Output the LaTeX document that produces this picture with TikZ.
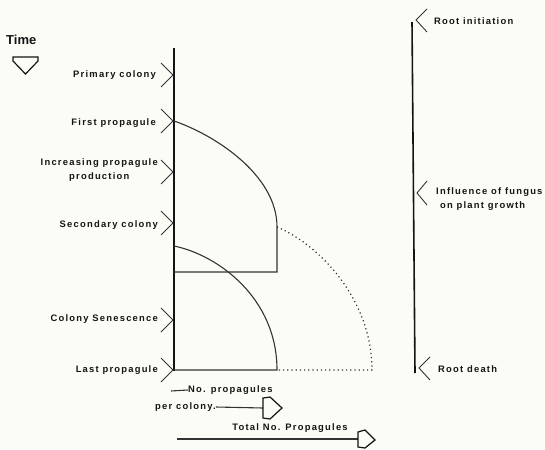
\documentclass[tikz,border=0pt]{standalone}
\usepackage{fontspec}
\setmainfont{Liberation Sans}
\usepackage{xcolor}
\usepackage{tikz}
\definecolor{PaperBg}{HTML}{FCFCF7}
\definecolor{InkDark}{HTML}{141414}
\definecolor{InkSoft}{HTML}{333333}

\tikzset{
  stagelabel/.style={font=\bfseries\fontsize{9.4}{14.5}\selectfont\addfontfeature{LetterSpace=13}, text=InkDark, inner sep=0pt},
  axisline/.style={InkDark, line width=1.6pt},
  colonyline/.style={InkSoft, line width=1.1pt},
  tickmark/.style={InkSoft, line width=0.9pt},
  potentialline/.style={InkSoft, line width=1.2pt, dash pattern=on 1.2pt off 3pt},
  hollowarrow/.style={InkDark, line width=1.2pt, line join=miter}
}

\begin{document}
\begin{tikzpicture}[x=1pt, y=-1pt]
    \fill[PaperBg] (0,0) rectangle (545,449);
    \useasboundingbox (0,0) rectangle (545,449);

    % time axis of the colony
    \coordinate (ctop) at (174,48);
    \coordinate (cbot) at (174,371);
    \draw[axisline] (ctop) -- (cbot);

    % time axis of the root
    \coordinate (rtop) at (412,22);
    \coordinate (rbot) at (415,373);
    \draw[axisline] (rtop) -- (rbot);

    % Time
    \node[font=\bfseries\fontsize{13}{15}\selectfont, text=InkDark, anchor=west, inner sep=0pt] (time) at (6,40) {Time};
    \draw[hollowarrow] (13,57) -- (38,57) -- (38,61) -- (25.5,74) -- (13,61) -- cycle;

    % stages of the colony
    \node[stagelabel, anchor=east] (primary) at (156,75) {Primary colony};
    \node[stagelabel, anchor=east] (first) at (156,123) {First propagule};
    \node[stagelabel, anchor=east, align=center] (increasing) at (158,170) {Increasing propagule\\production};
    \node[stagelabel, anchor=east] (secondary) at (158,225) {Secondary colony};
    \node[stagelabel, anchor=east] (senescence) at (158,319) {Colony Senescence};
    \node[stagelabel, anchor=east] (last) at (158,370) {Last propagule};

    \draw[tickmark] (161,63) -- (173,75) -- (161,87);
    \draw[tickmark] (161,109) -- (173,121) -- (161,133);
    \draw[tickmark] (161,160) -- (173,172) -- (161,184);
    \draw[tickmark] (161,211) -- (173,223) -- (161,235);
    \draw[tickmark] (161,308) -- (173,320) -- (161,332);
    \draw[tickmark] (161,358) -- (173,370) -- (161,382);

    % stages of the root
    \node[stagelabel, anchor=west] (initiation) at (434,21) {Root initiation};
    \node[stagelabel, anchor=west, align=left] (influence) at (436,199) {Influence of fungus\\\ on plant growth};
    \node[stagelabel, anchor=west] (death) at (438,369) {Root death};

    \draw[tickmark] (427,9) -- (416,20) -- (427,32);
    \draw[tickmark] (427,181) -- (417,193) -- (427,205);
    \draw[tickmark] (430,357) -- (419,368) -- (430,380);

    % propagules of primary colony
    \coordinate (p1) at (174,121);
    \coordinate (p2) at (277,227);
    \coordinate (p3) at (277,272);
    \coordinate (p4) at (174,272);
    \draw[colonyline] (p1) .. controls (215,135) and (277,175) .. (p2) -- (p3) -- (p4);

    % propagules of secondary colony
    \coordinate (s1) at (174,246);
    \coordinate (s2) at (277,370);
    \coordinate (s3) at (174,370);
    \draw[colonyline] (s1) .. controls (218,255) and (277,298) .. (s2) -- (s3);

    % total propagules
    \coordinate (t1) at (372,370);
    \draw[potentialline] (p2) .. controls (320,245) and (372,300) .. (t1) -- (s2);

    % per colony arrow
    \node[stagelabel, anchor=west] (percolonya) at (188,390) {No. propagules};
    \node[stagelabel, anchor=west] (percolonyb) at (155,407) {per colony.};
    \draw[colonyline] (171,391) -- (percolonya.west);
    \draw[colonyline] (percolonyb.east) -- (263,408);
    \draw[hollowarrow] (263,398) -- (270,397) -- (282,408) -- (270,419) -- (263,418) -- cycle;

    % total arrow
    \node[stagelabel, anchor=center] (totala) at (290,428) {Total No. Propagules};
    \draw[colonyline] (177,439) -- (358,439);
    \draw[hollowarrow] (358,432) -- (365,430) -- (375,440) -- (365,448) -- (358,447) -- cycle;
\end{tikzpicture}
\end{document}
